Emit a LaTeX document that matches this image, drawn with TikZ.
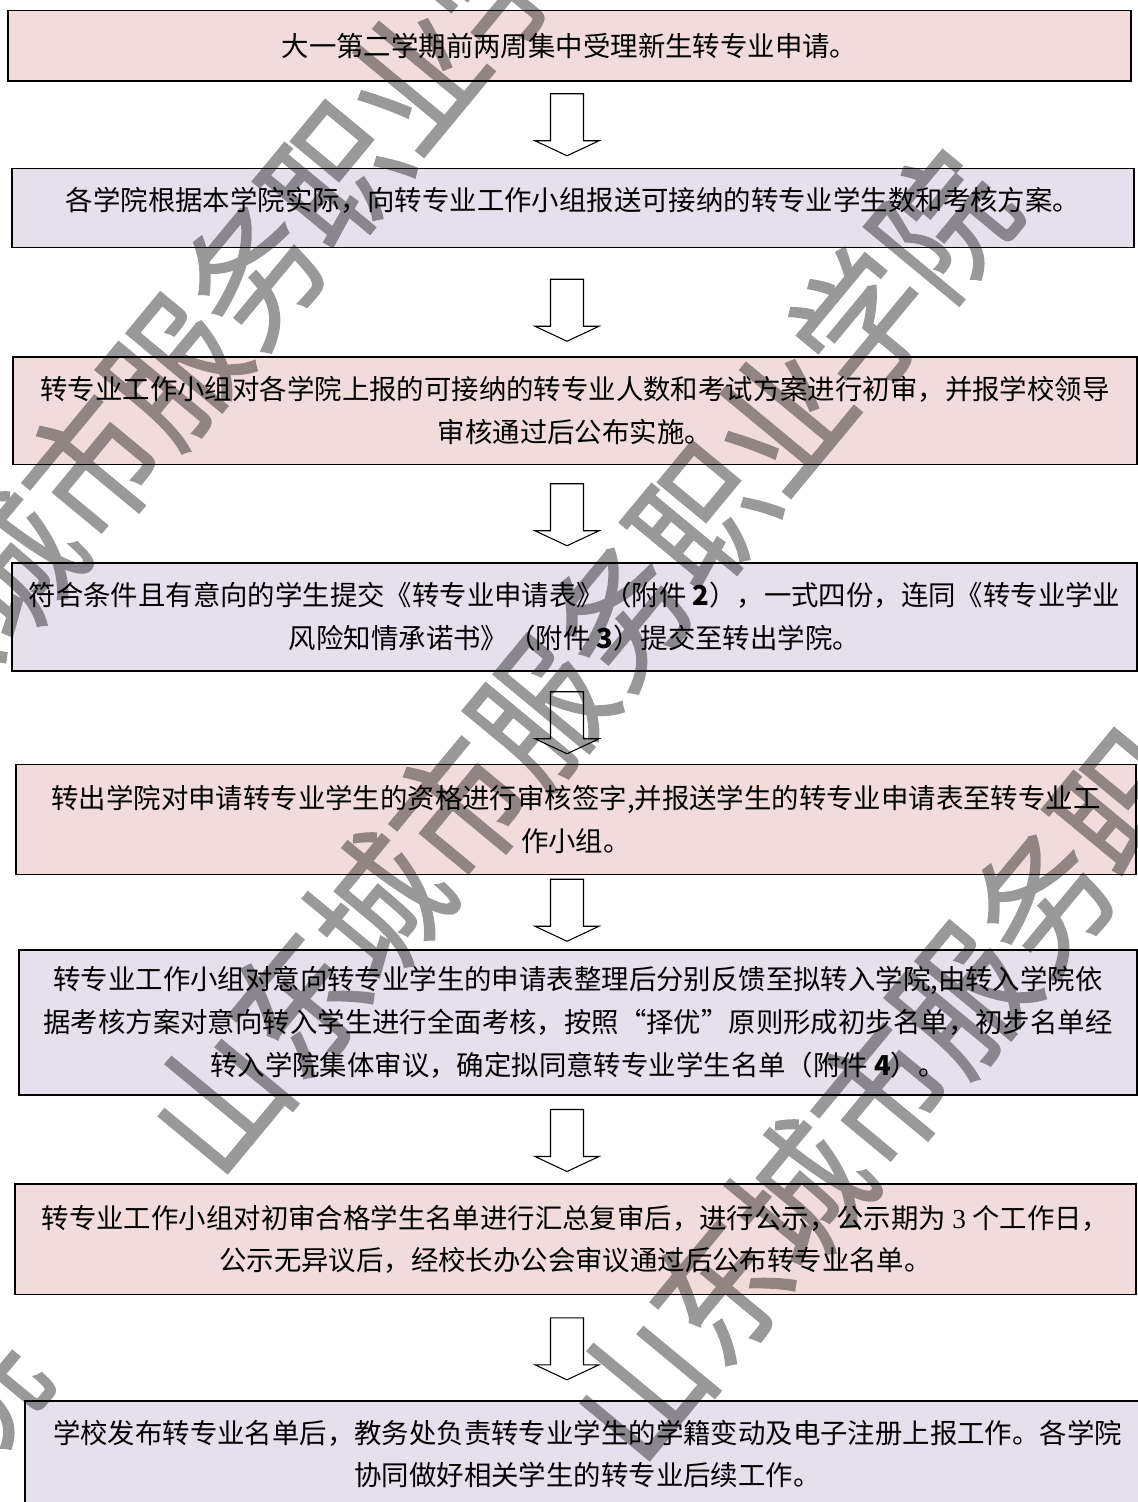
\documentclass[tikz,border=0pt]{standalone}
\usepackage{fontspec}
\usepackage{tikz}
\usetikzlibrary{calc}
\newfontfamily\cjk{Noto Sans CJK SC}
\newfontfamily\cjkmark[FakeBold=1.2]{Noto Sans CJK SC}
\newfontfamily\sernum{Liberation Serif}
\definecolor{boxpink}{RGB}{242,220,219}
\definecolor{boxlilac}{RGB}{229,224,236}
\tikzset{
	stepbox/.style 2 args={draw, line width=0.9pt, minimum width=#1*0.02cm, minimum height=#2*0.02cm, inner sep=0pt, align=center, font=\cjk\fontsize{15.6}{24.4}\selectfont},
	pinkbox/.style={fill=boxpink},
	lilacbox/.style={fill=boxlilac},
	wmtext/.style={rotate=50.4, yscale=1.12, inner sep=0pt, text=black, font=\cjkmark\fontsize{72}{72}\selectfont},
	downarrow/.pic={
		\draw[line width=0.6pt, fill=white] (-16.5,-31) -- (16.5,-31) -- (16.5,16) -- (32,16) -- (0,31) -- (-32,16) -- (-16.5,16) -- cycle;
	}
}

\begin{document}
\begin{tikzpicture}[x=0.02cm, y=-0.02cm]
	\useasboundingbox (0,0) rectangle (1138,1502);
	\clip (0,0) rectangle (1138,1502);
	
	% Etapas
	\node[stepbox={1123}{70.5}, pinkbox] (b1) at (569.5,45.75) {大一第二学期前两周集中受理新生转专业申请。};
	\node[stepbox={1122}{79}, lilacbox, text depth=0.38cm] (b2) at (573,208) {各学院根据本学院实际，向转专业工作小组报送可接纳的转专业学生数和考核方案。};
	\node[stepbox={1124}{107.5}, pinkbox] (b3) at (575,410.75) {转专业工作小组对各学院上报的可接纳的转专业人数和考试方案进行初审，并报学校领导\\审核通过后公布实施。};
	\node[stepbox={1125}{108}, lilacbox] (b4) at (574.5,617) {符合条件且有意向的学生提交《转专业申请表》（附件 \textbf{2}），一式四份，连同《转专业学业\\风险知情承诺书》（附件 \textbf{3}）提交至转出学院。};
	\node[stepbox={1120}{110}, pinkbox] (b5) at (576,819.5) {转出学院对申请转专业学生的资格进行审核签字,并报送学生的转专业申请表至转专业工\\作小组。};
	\node[stepbox={1118}{145}, lilacbox] (b6) at (578,1022.5) {转专业工作小组对意向转专业学生的申请表整理后分别反馈至拟转入学院,由转入学院依\\据考核方案对意向转入学生进行全面考核，按照“择优”原则形成初步名单，初步名单经\\转入学院集体审议，确定拟同意转专业学生名单（附件 \textbf{4}）。};
	\node[stepbox={1121}{110.6}, pinkbox] (b7) at (575.5,1239.3) {转专业工作小组对初审合格学生名单进行汇总复审后，进行公示，公示期为 {\sernum 3} 个工作日，\\公示无异议后，经校长办公会审议通过后公布转专业名单。};
	\node[stepbox={1125}{106}, lilacbox] (b8) at (587.5,1454) {学校发布转专业名单后，教务处负责转专业学生的学籍变动及电子注册上报工作。各学院\\协同做好相关学生的转专业后续工作。};
	
	% Setas
	\coordinate (axis) at (567,0);
	\foreach \a/\b/\dy [count=\i] in {b1/b2/0, b2/b3/8, b3/b4/1, b4/b5/5, b5/b6/-2, b6/b7/1, b7/b8/1} {
		\coordinate (gap\i) at ($(\a.south)!.5!(\b.north)+(0,\dy)$);
		\pic at (axis |- gap\i) {downarrow};
	}
	
	% Marca d'agua
	\begin{scope}[transparency group, opacity=0.4]
		\node[wmtext] (wm1) at (213,321) {山东城市服务职业学院};
		\node[wmtext] (wm2) at (580,662) {山东城市服务职业学院};
		\node[wmtext] (wm3) at (1002,949) {山东城市服务职业学院};
		\node[wmtext] (wm4) at (-390,1831) {山东城市服务职业学院};
	\end{scope}
\end{tikzpicture}
\end{document}
